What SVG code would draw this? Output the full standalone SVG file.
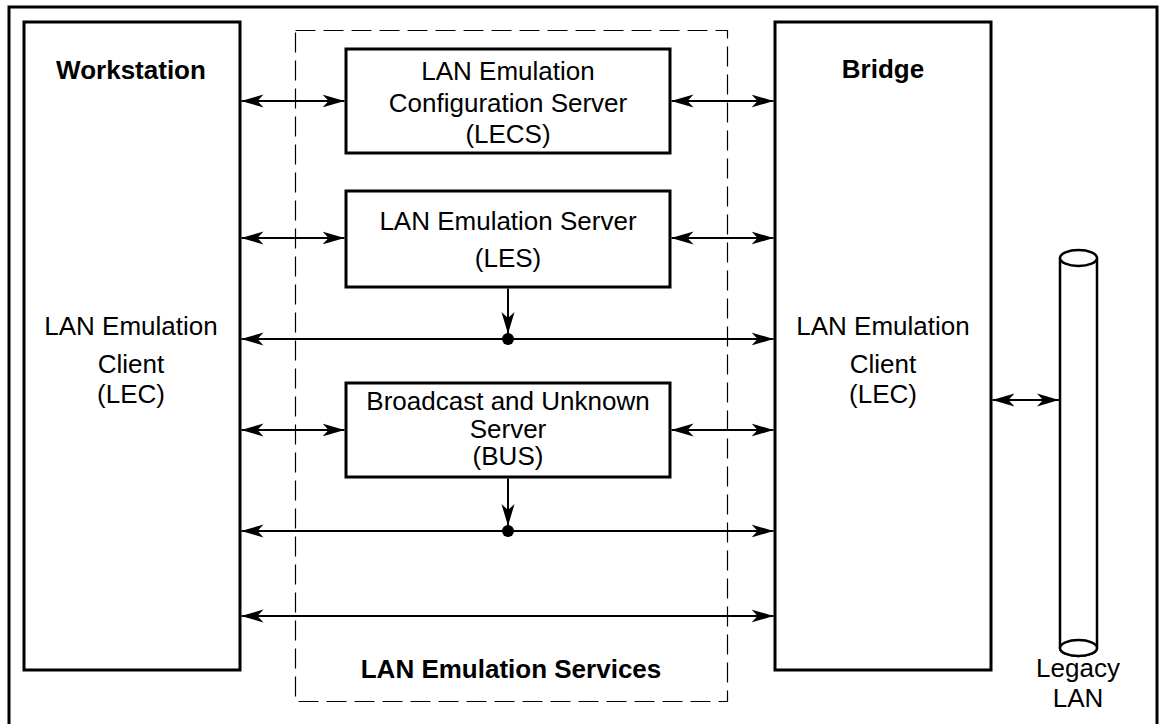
<svg xmlns="http://www.w3.org/2000/svg" width="1163" height="724" viewBox="0 0 1163 724">
  <style>
    .box { fill: #fff; stroke: #000; stroke-width: 3; }
    .dash { fill: none; stroke: #000; stroke-width: 1.2; stroke-dasharray: 20 8; }
    .conn { fill: none; stroke: #000; stroke-width: 2; marker-start: url(#ah); marker-end: url(#ah); }
    .down { fill: none; stroke: #000; stroke-width: 2; marker-end: url(#ah); }
    .t { font-family: "Liberation Sans", Arial, sans-serif; font-size: 26px; fill: #000; text-anchor: middle; }
    .b { font-weight: bold; }
    .cyl { fill: #fff; stroke: #000; stroke-width: 2.5; }
  </style>
  <defs>
    <marker id="ah" viewBox="-22 -7 22 14" refX="0" refY="0" markerWidth="22" markerHeight="14" markerUnits="userSpaceOnUse" orient="auto-start-reverse">
      <path d="M0,0 L-22,-6.5 L-16,0 L-22,6.5 Z" fill="#000"/>
    </marker>
  </defs>
  <rect x="0" y="0" width="1163" height="724" fill="#fff"/>
  <rect id="frame" x="9" y="7" width="1148" height="740" fill="none" stroke="#000" stroke-width="3"/>

  <g id="services">
    <rect class="dash" x="295.5" y="30.5" width="432" height="671"/>
    <text class="t b" x="511" y="678">LAN Emulation Services</text>
  </g>

  <g id="workstation">
    <rect class="box" x="24" y="22" width="216" height="648"/>
    <text class="t b" x="131" y="79">Workstation</text>
    <text class="t" x="131" y="335">LAN Emulation</text>
    <text class="t" x="131" y="373">Client</text>
    <text class="t" x="131" y="403">(LEC)</text>
  </g>

  <g id="bridge">
    <rect class="box" x="775" y="22" width="216" height="648"/>
    <text class="t b" x="883" y="78">Bridge</text>
    <text class="t" x="883" y="335">LAN Emulation</text>
    <text class="t" x="883" y="373">Client</text>
    <text class="t" x="883" y="403">(LEC)</text>
  </g>

  <g id="lecs">
    <rect class="box" x="346" y="49" width="324" height="104"/>
    <text class="t" x="508" y="80">LAN Emulation</text>
    <text class="t" x="508" y="112">Configuration Server</text>
    <text class="t" x="508" y="143">(LECS)</text>
  </g>

  <g id="les">
    <rect class="box" x="346" y="191" width="324" height="96"/>
    <text class="t" x="508" y="230">LAN Emulation Server</text>
    <text class="t" x="508" y="267">(LES)</text>
  </g>

  <g id="bus">
    <rect class="box" x="346" y="383" width="324" height="94"/>
    <text class="t" x="508" y="410">Broadcast and Unknown</text>
    <text class="t" x="508" y="438">Server</text>
    <text class="t" x="508" y="465">(BUS)</text>
  </g>

  <g id="legacy-lan">
    <path class="cyl" d="M1060,258 L1060,648 A18.5,8 0 0 0 1097,648 L1097,258"/>
    <ellipse class="cyl" cx="1078.5" cy="258" rx="18.5" ry="8"/>
    <ellipse class="cyl" cx="1078.5" cy="648" rx="18.5" ry="8"/>
    <text class="t" x="1078" y="677">Legacy</text>
    <text class="t" x="1078" y="707">LAN</text>
  </g>

  <g id="connectors">
    <line class="conn" x1="241.5" y1="101" x2="344.5" y2="101"/>
    <line class="conn" x1="671.5" y1="101" x2="773.5" y2="101"/>
    <line class="conn" x1="241.5" y1="238" x2="344.5" y2="238"/>
    <line class="conn" x1="671.5" y1="238" x2="773.5" y2="238"/>
    <line class="conn" x1="241.5" y1="339" x2="773.5" y2="339"/>
    <line class="down" x1="508" y1="288.5" x2="508" y2="334"/>
    <circle cx="508" cy="339" r="6" fill="#000"/>
    <line class="conn" x1="241.5" y1="430" x2="344.5" y2="430"/>
    <line class="conn" x1="671.5" y1="430" x2="773.5" y2="430"/>
    <line class="conn" x1="241.5" y1="531" x2="773.5" y2="531"/>
    <line class="down" x1="508" y1="478.5" x2="508" y2="526"/>
    <circle cx="508" cy="531" r="6" fill="#000"/>
    <line class="conn" x1="241.5" y1="616" x2="773.5" y2="616"/>
    <line class="conn" x1="992.5" y1="400" x2="1059" y2="400"/>
  </g>
</svg>
